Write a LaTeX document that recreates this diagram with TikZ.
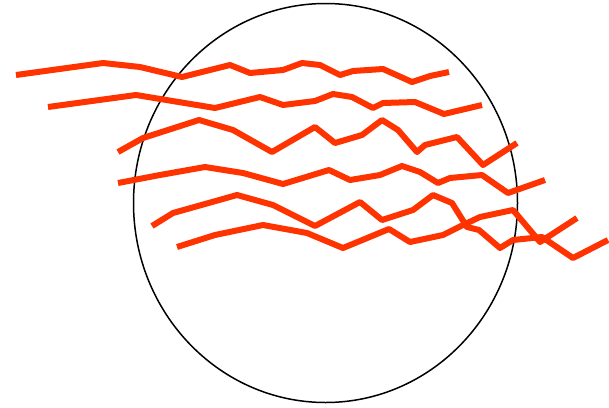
\documentclass[tikz,border=0pt]{standalone}
\definecolor{wavered}{RGB}{255,51,0}
\tikzset{wave/.style={draw=wavered,line width=6pt,line join=round,line cap=butt},
rim/.style={draw=black,line width=1.5pt}}
\begin{document}
\begin{tikzpicture}[x=1pt,y=-1pt]
\useasboundingbox (0,0) rectangle (609,407);
\draw[rim] (325.5,203) ellipse [x radius=192, y radius=199.5];
\draw[wave] (16,75) -- (103,63) -- (140,67) -- (182,77) -- (230,65) -- (250,73) -- (283,70) -- (302,63) -- (320,65) -- (340,75) -- (353,71) -- (383,69) -- (412,82) -- (430,76) -- (449,72);
\draw[wave] (48,107) -- (136,95) -- (215,108) -- (260,97) -- (283,105) -- (315,101) -- (333,94) -- (352,97) -- (373,108) -- (383,103) -- (415,102) -- (444,114) -- (482,105);
\draw[wave] (118,152) -- (143,138) -- (199,120) -- (233,130) -- (272,152) -- (315,127) -- (335,143) -- (362,135) -- (382,120) -- (398,130) -- (417,152) -- (425,145) -- (457,137) -- (483,165) -- (517,143);
\draw[wave] (118,183) -- (160,175) -- (205,167) -- (243,173) -- (283,184) -- (329,170) -- (350,180) -- (380,175) -- (402,166) -- (420,172) -- (438,183) -- (450,178) -- (482,175) -- (508,193) -- (545,180);
\draw[wave] (152,226) -- (173,213) -- (237,195) -- (273,205) -- (315,226) -- (360,202) -- (382,220) -- (413,210) -- (433,195) -- (452,203) -- (467,227) -- (479,230) -- (500,248) -- (513,240) -- (542,237) -- (573,258) -- (608,240);
\draw[wave] (177,247) -- (215,235) -- (263,225) -- (307,233) -- (343,248) -- (389,229) -- (410,242) -- (443,235) -- (463,225) -- (480,217) -- (513,210) -- (540,242) -- (577,218);
\end{tikzpicture}
\end{document}
